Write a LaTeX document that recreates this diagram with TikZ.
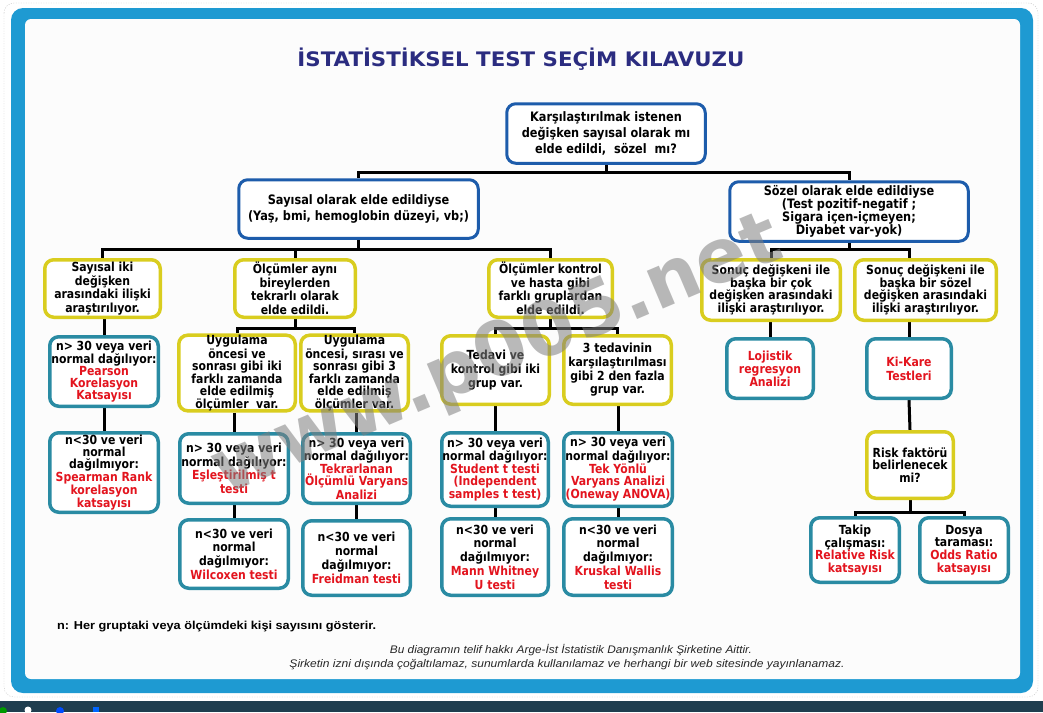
\documentclass[tikz,border=0pt]{standalone}
\usepackage{fontspec}
\setmainfont{DejaVu Sans}
\newfontfamily\boxfont{DejaVu Sans}[FakeStretch=0.87]
\newfontfamily\libsans{Liberation Sans}
\usetikzlibrary{calc}
\definecolor{bx}{HTML}{1D5CAB}
\definecolor{yb}{HTML}{D9CD1F}
\definecolor{tb}{HTML}{2A8BA3}
\definecolor{rd}{HTML}{E3141E}
\definecolor{frameblue}{HTML}{1E9AD2}
\definecolor{titleblue}{HTML}{2B2C80}
\definecolor{strip}{HTML}{1F3E4F}
\pgfdeclarelayer{frame}\pgfdeclarelayer{lines}\pgfdeclarelayer{front}
\pgfsetlayers{frame,lines,main,front}
\newcommand{\rt}[1]{\textcolor{rd}{#1}}
\newcommand{\mkbox}[7]{\node[#2, minimum width={#5-#3-3.5}, minimum height={#6-#4-3.5}] (#1) at ({(#3+#5)/2},{(#4+#6)/2}) {#7};}
\begin{document}
\begin{tikzpicture}[x=1pt,y=-1pt,
  box/.style={draw, rounded corners=9pt, fill=white, align=center, inner sep=0pt, text=black},
  ls/.style={font=\boxfont\fontsize{12.5}{#1}\selectfont\bfseries},
  lsb/.style={font=\boxfont\fontsize{13}{#1}\selectfont\bfseries},
  bluebox/.style={box, draw=bx, line width=3pt, lsb=15.8},
  ybox/.style={box, draw=yb, line width=3.5pt, ls=13.5},
  tbox/.style={box, draw=tb, line width=3.5pt, ls=13.5},
  conn/.style={line width=3pt, draw=black},
]
\useasboundingbox (0,0) rectangle (1043,712);
\begin{pgfonlayer}{frame}
\fill[white] (0,0) rectangle (1043,712);
\draw[black!25, dash pattern=on 1pt off 1.5pt, rounded corners=10pt] (4,3) rectangle (1038,697);
\fill[frameblue, rounded corners=12pt] (11,8) rectangle (1033,693);
\fill[white!98!gray, rounded corners=6pt] (25,19) rectangle (1020,679);
\fill[strip] (0,701) rectangle (1043,712);
\fill[green!60!black] (3,711) circle (4);
\fill[white] (28,710) circle (3.5);
\fill[blue!70!cyan] (60,711) circle (4);
\fill[blue!60!cyan] (93,707) rectangle (99,712);
\end{pgfonlayer}

% title and notes
\node[anchor=base, inner sep=0, text=titleblue] (title) at (521,66) {\resizebox{447pt}{\height}{\fontsize{20}{22}\selectfont\bfseries İSTATİSTİKSEL TEST SEÇİM KILAVUZU}};
\node[anchor=base west, inner sep=0] (note) at (57,629) {\resizebox{319pt}{\height}{\libsans\fontsize{11.5}{13}\selectfont\bfseries n: Her gruptaki veya ölçümdeki kişi sayısını gösterir.}};
\node[anchor=base, inner sep=0, text=black!85] (c1) at (571,653) {\resizebox{362pt}{\height}{\libsans\itshape\fontsize{11}{13}\selectfont Bu diagramın telif hakkı Arge-İst İstatistik Danışmanlık Şirketine Aittir.}};
\node[anchor=base, inner sep=0, text=black!85] (c2) at (567,667) {\resizebox{555pt}{\height}{\libsans\itshape\fontsize{11}{13}\selectfont Şirketin izni dışında çoğaltılamaz, sunumlarda kullanılamaz ve herhangi bir web sitesinde yayınlanamaz.}};

% boxes
\mkbox{top}{bluebox}{505}{102}{707}{165}{Karşılaştırılmak istenen\\değişken sayısal olarak mı\\elde edildi,\ \ sözel\ \ mı?}
\mkbox{L1a}{bluebox}{237}{178}{480}{240}{Sayısal olarak elde edildiyse\\(Yaş, bmi, hemoglobin düzeyi, vb;)}
\mkbox{L1b}{bluebox,lsb=13.2}{728}{180}{970}{243}{Sözel olarak elde edildiyse\\(Test pozitif-negatif ;\\Sigara içen-içmeyen;\\Diyabet var-yok)}
\mkbox{A}{ybox}{43}{258}{162}{319}{Sayısal iki\\değişken\\arasındaki ilişki\\araştırılıyor.}
\mkbox{B}{ybox}{233}{258}{357}{319}{Ölçümler aynı\\bireylerden\\tekrarlı olarak\\elde edildi.}
\mkbox{C}{ybox}{487}{258}{614}{319}{Ölçümler kontrol\\ve hasta gibi\\farklı gruplardan\\elde edildi.}
\mkbox{D}{ybox,ls=12.5}{700}{258}{842}{322}{Sonuç değişkeni ile\\başka bir çok\\değişken arasındaki\\ilişki araştırılıyor.}
\mkbox{E}{ybox,ls=12.5}{853}{258}{998}{322}{Sonuç değişkeni ile\\başka bir sözel\\değişken arasındaki\\ilişki araştırılıyor.}
\mkbox{B1}{ybox,ls=12}{177}{334}{297}{412}{Uygulama\\öncesi ve\\sonrası gibi iki\\farklı zamanda\\elde edilmiş\\ölçümler\ \ var.}
\mkbox{B2}{ybox,ls=12}{299}{334}{410}{412}{Uygulama\\öncesi, sırası ve\\sonrası gibi 3\\farklı zamanda\\elde edilmiş\\ölçümler var.}
\mkbox{C1}{ybox,ls=13.7}{440}{334}{551}{406}{Tedavi ve\\kontrol gibi iki\\grup var.}
\mkbox{C2}{ybox,ls=13.7}{562}{334}{673}{406}{3 tedavinin\\karşılaştırılması\\gibi 2 den fazla\\grup var.}
\mkbox{P}{tbox,ls=12}{48}{335}{160}{408}{n> 30 veya veri\\normal dağılıyor:\\\rt{Pearson}\\\rt{Korelasyon}\\\rt{Katsayısı}}
\mkbox{Lo}{tbox,ls=13}{725}{337}{815}{400}{\rt{Lojistik}\\\rt{regresyon}\\\rt{Analizi}}
\mkbox{KK}{tbox,ls=14}{865}{337}{953}{400}{\rt{Ki-Kare}\\\rt{Testleri}}
\mkbox{S}{tbox,ls=12}{48}{431}{160}{514}{n<30 ve veri\\normal\\dağılmıyor:\\\rt{Spearman Rank}\\\rt{korelasyon}\\\rt{katsayısı}}
\mkbox{B1c}{tbox,ls=13.6}{178}{432}{290}{505}{n> 30 veya veri\\normal dağılıyor:\\\rt{Eşleştirilmiş t}\\\rt{testi}}
\mkbox{B2c}{tbox,ls=12}{301}{432}{412}{505}{n> 30 veya veri\\normal dağılıyor:\\\rt{Tekrarlanan}\\\rt{Ölçümlü Varyans}\\\rt{Analizi}}
\mkbox{C1c}{tbox,ls=12}{440}{431}{550}{508}{n> 30 veya veri\\normal dağılıyor:\\\rt{Student t testi}\\\rt{(Independent}\\\rt{samples t test)}}
\mkbox{C2c}{tbox,ls=12}{562}{431}{674}{508}{n> 30 veya veri\\normal dağılıyor:\\\rt{Tek Yönlü}\\\rt{Varyans Analizi}\\\rt{(Oneway ANOVA)}}
\mkbox{R}{ybox,ls=12.8}{865}{430}{955}{500}{Risk faktörü\\belirlenecek\\mi?}
\mkbox{B1g}{tbox,ls=13.6}{178}{518}{290}{590}{n<30 ve veri\\normal\\dağılmıyor:\\\rt{Wilcoxen testi}}
\mkbox{B2g}{tbox,ls=13.9}{301}{519}{412}{597}{n<30 ve veri\\normal\\dağılmıyor:\\\rt{Freidman testi}}
\mkbox{C1g}{tbox,ls=13.75}{440}{517}{550}{597}{n<30 ve veri\\normal\\dağılmıyor:\\\rt{Mann Whitney}\\\rt{U testi}}
\mkbox{C2g}{tbox,ls=13.75}{562}{517}{674}{597}{n<30 ve veri\\normal\\dağılmıyor:\\\rt{Kruskal Wallis}\\\rt{testi}}
\mkbox{T}{tbox,ls=12.6}{809}{516}{901}{584}{Takip\\çalışması:\\\rt{Relative Risk}\\\rt{katsayısı}}
\mkbox{Do}{tbox,ls=12.6}{918}{516}{1010}{584}{Dosya\\taraması:\\\rt{Odds Ratio}\\\rt{katsayısı}}

% connectors
\begin{pgfonlayer}{lines}
\coordinate (j0) at ($(top.south)+(0,8)$);
\draw[conn] (top.south) -- (j0);
\draw[conn] (L1a.north) |- (j0) -| (L1b.north);
\coordinate (j1) at ($(L1a.south)+(0,10)$);
\draw[conn] (L1a.south) -- (j1);
\draw[conn] (A.north) |- (j1) -| (C.north);
\draw[conn] (B.north) -- (B.north |- j1);
\coordinate (j2) at ($(L1b.south)+(0,7)$);
\coordinate (Etop) at (KK.north |- E.north);
\coordinate (Ebot) at (KK.north |- E.south);
\draw[conn] (L1b.south) -- (j2);
\draw[conn] (D.north) |- (j2) -| (Etop);
\draw[conn] (Lo.north |- D.south) -- (Lo.north);
\draw[conn] (Ebot) -- (KK.north);
\draw[conn] (KK.south) -- (R.north);
\coordinate (jr) at ($(R.south)+(0,12)$);
\draw[conn] (R.south) -- (jr);
\draw[conn] (T.north) |- (jr) -| (Do.north);
\coordinate (jb) at ($(B.south)+(0,9)$);
\draw[conn] (B.south) -- (jb);
\draw[conn] (B1.north) |- (jb) -| (B2.north);
\coordinate (jc) at ($(C.south)+(0,9)$);
\draw[conn] (C.south) -- (jc);
\draw[conn] (C1.north) |- (jc) -| (C2.north);
\draw[conn] (P.north |- A.south) -- (P.north);
\draw[conn] (P.south) -- (S.north);
\draw[conn] (B1c.north |- B1.south) -- (B1c.north);
\draw[conn] (B1c.south) -- (B1g.north);
\draw[conn] (B2c.north |- B2.south) -- (B2c.north);
\draw[conn] (B2c.south) -- (B2g.north);
\draw[conn] (C1c.north |- C1.south) -- (C1c.north);
\draw[conn] (C1c.south) -- (C1g.north);
\draw[conn] (C2c.north |- C2.south) -- (C2c.north);
\draw[conn] (C2c.south) -- (C2g.north);
\end{pgfonlayer}

\begin{pgfonlayer}{front}
\node[rotate=23, anchor=base, text=black!50, opacity=0.55, font=\fontsize{75}{75}\selectfont\bfseries, inner sep=0] (wm) at (505,376) {www.p005.net};
\end{pgfonlayer}
\end{tikzpicture}
\end{document}
